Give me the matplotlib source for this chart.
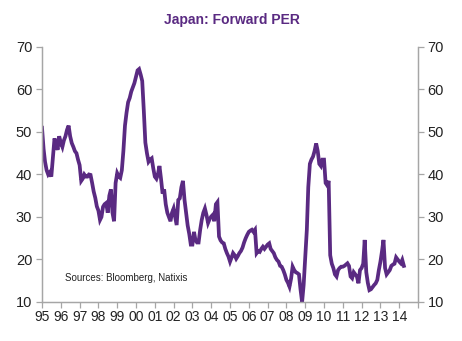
import matplotlib
matplotlib.use("Agg")
import matplotlib.pyplot as plt
import numpy as np
import pandas as pd

# monthly forward PER (Jan 1995 .. Apr 2014)
per_1995 = [51, 46, 43, 41, 40, 40.5, 39.5, 44, 48.5, 47, 45.8, 49]
per_1996 = [47.5, 46.5, 48, 49, 50.5, 51.5, 49, 47.4, 46.5, 45.5, 45, 43.5]
per_1997 = [42.2, 38.5, 39, 40, 39.5, 39.5, 40, 39.9, 38, 36, 34.5, 32.5]
per_1998 = [31.5, 29.3, 30, 32.4, 33, 33.3, 31, 35, 36.5, 31, 29, 38]
per_1999 = [40.3, 39.5, 39.2, 41, 45.5, 51.5, 54.5, 57, 58, 59.5, 60.5, 61.5]
per_2000 = [63, 64.5, 64.8, 63.5, 62, 55, 47.5, 45, 43, 43.5, 43.8, 41.5]
per_2001 = [39.5, 39, 40, 42, 39, 35.5, 36.5, 33, 31, 30, 29, 31]
per_2002 = [32, 30, 28.1, 34, 34.4, 37, 38.5, 34, 31, 28, 26, 23.5]
per_2003 = [23.5, 26.5, 24.6, 24, 24, 27, 29.3, 31, 32, 30.5, 28.6, 29.5]
per_2004 = [30.1, 30.5, 29, 33, 33.5, 25.4, 24.5, 24, 23.8, 22.5, 21.5, 20.7]
per_2005 = [19.5, 20.5, 21.5, 21, 20.2, 20.8, 21.5, 22, 22.8, 24, 25, 25.8]
per_2006 = [26.5, 26.8, 27, 26.5, 27, 21.5, 22, 21.8, 22.5, 23, 22.5, 23]
per_2007 = [23.5, 23.8, 22.5, 22, 21.5, 20.5, 19.9, 19.5, 18.5, 18.3, 17.5, 16.5]
per_2008 = [15.2, 14.5, 13.6, 15.5, 18.3, 17.5, 17, 16.8, 16.5, 13, 10, 14]
per_2009 = [20.7, 27, 37, 42.5, 43.5, 44.2, 45.5, 47.3, 45.5, 42.5, 42, 43.5]
per_2010 = [43.5, 38, 37.5, 38.5, 21, 19, 18, 16.5, 16, 17.5, 18, 18.3]
per_2011 = [18.3, 18.5, 18.8, 19.1, 18.5, 16, 15.6, 17, 16.5, 16, 14.4, 17.5]
per_2012 = [18, 19, 24.6, 17, 14.5, 12.8, 13, 13.5, 14, 14.4, 15.2, 17.5]
per_2013 = [19.5, 22, 24.6, 18, 16.5, 17, 17.5, 18.5, 18.8, 19, 20.5, 20]
per_2014 = [19.5, 19.1, 19.9, 18.5]

per = (per_1995 + per_1996 + per_1997 + per_1998 + per_1999 + per_2000 +
       per_2001 + per_2002 + per_2003 + per_2004 + per_2005 + per_2006 +
       per_2007 + per_2008 + per_2009 + per_2010 + per_2011 + per_2012 +
       per_2013 + per_2014)
dates = pd.date_range("1995-01-01", periods=len(per), freq="MS")

year_ticks = pd.date_range("1995-01-01", "2015-01-01", freq="YS")
year_labels = [d.strftime("%y") for d in year_ticks[:-1]] + [""]

purple = "#5a2a82"
grey = "#a6a6a6"
plt.rcParams["font.family"] = ["Liberation Sans", "DejaVu Sans"]

fig = plt.figure(figsize=(4.62, 3.41), dpi=100)
ax = fig.add_axes([0.0909, 0.1144, 0.8139, 0.7478])
ax.plot(dates, per, color=purple, lw=2.7, solid_joinstyle="miter")

ax.set_xlim(year_ticks[0], year_ticks[-1])
ax.set_ylim(10, 70)
ax.set_yticks(np.arange(10, 71, 10))
ax.set_xticks(year_ticks)
ax.set_xticklabels(year_labels)

ax2 = ax.twinx()
ax2.set_ylim(10, 70)
ax2.set_yticks(np.arange(10, 71, 10))

for a in (ax, ax2):
    a.spines["top"].set_visible(False)
    for s in ("left", "right", "bottom"):
        a.spines[s].set_color(grey)
        a.spines[s].set_linewidth(0.9)
    a.tick_params(axis="both", colors=grey, labelcolor="#222222",
                  labelsize=10.5, length=4, width=0.9, pad=3)
ax.tick_params(axis="x", labelsize=10, pad=2)

fig.text(0.502, 0.94, "Japan: Forward PER", ha="center", va="center",
         color=purple, fontsize=10, fontweight="bold")
ax.text(0.06, 0.095, "Sources: Bloomberg, Natixis", transform=ax.transAxes,
        fontsize=7, color="#222222", va="center")

fig.savefig("out.png", dpi=100)
